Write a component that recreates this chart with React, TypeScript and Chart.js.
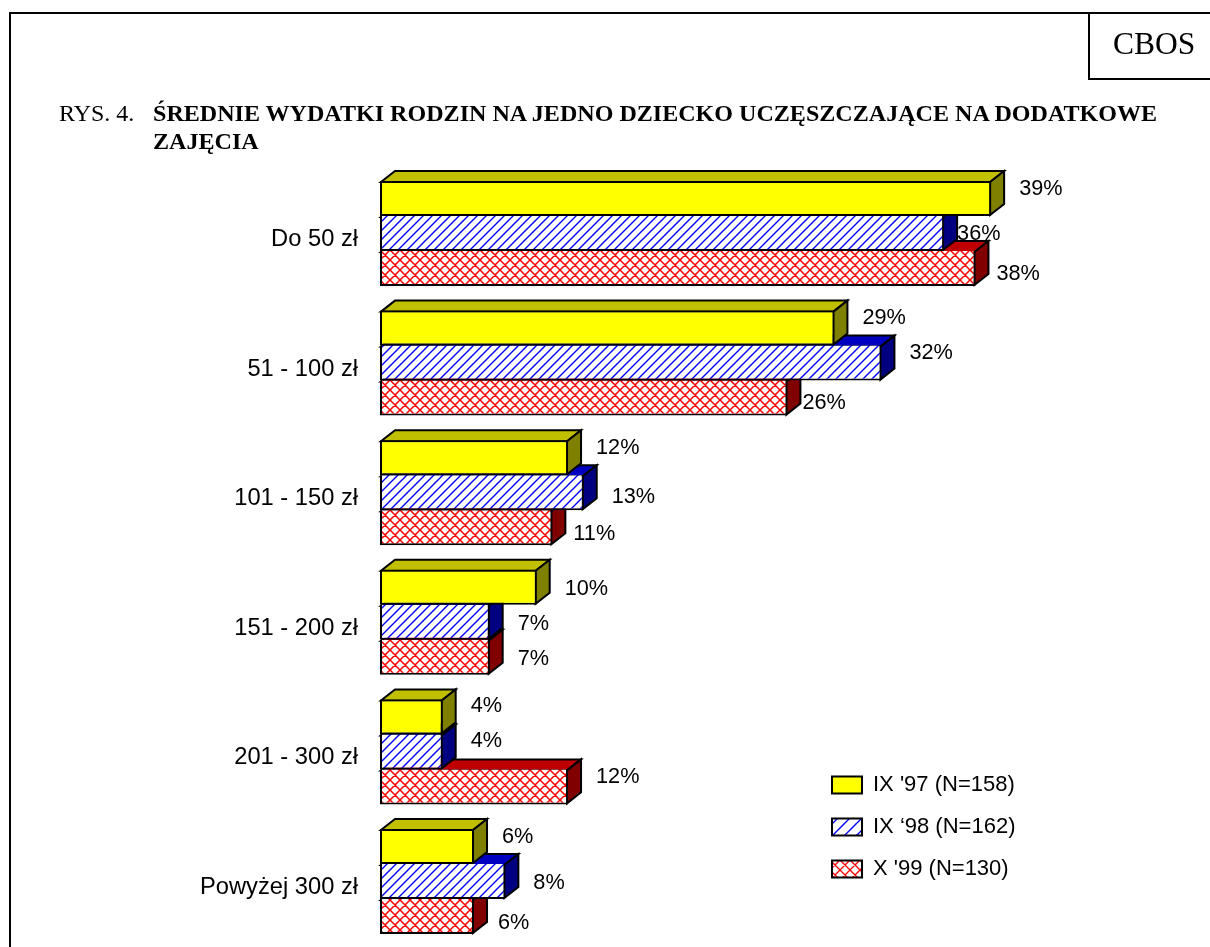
import React, { useEffect, useRef } from "react";
import { Chart, registerables } from "chart.js";

Chart.register(...registerables);

const categories = ["Do 50 zł", "51 - 100 zł", "101 - 150 zł", "151 - 200 zł", "201 - 300 zł", "Powyżej 300 zł"];
const seriesNames = ["IX '97 (N=158)", "IX ‘98 (N=162)", "X '99 (N=130)"];
const values97 = [39, 29, 12, 10, 4, 6];
const values98 = [36, 32, 13, 7, 4, 8];
const values99 = [38, 26, 11, 7, 12, 6];

// nudges of the value labels, [dx, dy] from the bar end and bar centre
const labelNudge97 = [[28, -9], [28, -10], [28, -10], [28, 2], [28, -11], [28, -9]];
const labelNudge98 = [[13, 1], [28, -10], [28, 4], [28, 2], [28, -11], [28, 2]];
const labelNudge99 = [[21, 6], [15, 5], [21, 6], [28, 2], [28, -10], [24, 7]];
const labelNudges = [labelNudge97, labelNudge98, labelNudge99];

const topColors = ["#C0C000", "#0000C0", "#C00000"];
const sideColors = ["#808000", "#000080", "#800000"];
const DEPTH_X = 14;
const DEPTH_Y = 11;
const LABEL_FONT = "Liberation Sans";
const VALUE_SIZE = 21.7;
const AXIS_SIZE = 23.7;

function tile(size: number, draw: (c: CanvasRenderingContext2D) => void) {
  const cv = document.createElement("canvas");
  cv.width = size;
  cv.height = size;
  const c = cv.getContext("2d")!;
  c.fillStyle = "#fff";
  c.fillRect(0, 0, size, size);
  draw(c);
  return c.createPattern(cv, "repeat")!;
}

function hatchPattern(size: number, color: string, width: number) {
  return tile(size, (c) => {
    c.strokeStyle = color;
    c.lineWidth = width;
    c.beginPath();
    c.moveTo(-1, size + 1);
    c.lineTo(size + 1, -1);
    c.moveTo(-1, 1);
    c.lineTo(1, -1);
    c.moveTo(size - 1, size + 1);
    c.lineTo(size + 1, size - 1);
    c.stroke();
  });
}

function crossPattern(size: number, color: string, width: number) {
  return tile(size, (c) => {
    c.strokeStyle = color;
    c.lineWidth = width;
    c.beginPath();
    c.moveTo(-1, size + 1);
    c.lineTo(size + 1, -1);
    c.moveTo(-1, -1);
    c.lineTo(size + 1, size + 1);
    c.moveTo(-1, 1);
    c.lineTo(1, -1);
    c.moveTo(size - 1, size + 1);
    c.lineTo(size + 1, size - 1);
    c.moveTo(size - 1, -1);
    c.lineTo(size + 1, 1);
    c.moveTo(-1, size - 1);
    c.lineTo(1, size + 1);
    c.stroke();
  });
}

const depthFaces = {
  id: "depthFaces",
  beforeDatasetsDraw(chart: any) {
    const { ctx } = chart;
    ctx.save();
    ctx.strokeStyle = "#000";
    ctx.lineWidth = 2;
    ctx.lineJoin = "miter";
    const count = chart.data.labels.length;
    for (let i = count - 1; i >= 0; i--) {
      for (let d = chart.data.datasets.length - 1; d >= 0; d--) {
        const el: any = chart.getDatasetMeta(d).data[i];
        const top = el.y - el.height / 2 + 1;
        const bottom = el.y + el.height / 2 - 1;
        const left = el.base + 1;
        const right = el.x - 1;
        ctx.fillStyle = topColors[d];
        ctx.beginPath();
        ctx.moveTo(left, top);
        ctx.lineTo(left + DEPTH_X, top - DEPTH_Y);
        ctx.lineTo(right + DEPTH_X, top - DEPTH_Y);
        ctx.lineTo(right, top);
        ctx.closePath();
        ctx.fill();
        ctx.stroke();
        ctx.fillStyle = sideColors[d];
        ctx.beginPath();
        ctx.moveTo(right, top);
        ctx.lineTo(right + DEPTH_X, top - DEPTH_Y);
        ctx.lineTo(right + DEPTH_X, bottom - DEPTH_Y);
        ctx.lineTo(right, bottom);
        ctx.closePath();
        ctx.fill();
        ctx.stroke();
      }
    }
    ctx.restore();
  },
};

const valueLabels = {
  id: "valueLabels",
  afterDatasetsDraw(chart: any) {
    const { ctx } = chart;
    ctx.save();
    ctx.fillStyle = "#000";
    ctx.font = `${VALUE_SIZE}px "${LABEL_FONT}"`;
    ctx.textAlign = "left";
    ctx.textBaseline = "middle";
    chart.data.datasets.forEach((ds: any, d: number) => {
      chart.getDatasetMeta(d).data.forEach((el: any, i: number) => {
        const [dx, dy] = labelNudges[d][i];
        ctx.fillText(`${ds.data[i]}%`, el.x + dx, el.y + dy);
      });
    });
    ctx.restore();
  },
};

const placeLegend = {
  id: "placeLegend",
  afterLayout(chart: any) {
    const lg = chart.legend;
    const pad = lg.options.labels.padding;
    lg.left = 832 - pad;
    lg.top = 774 - pad;
    lg.right = 1200;
    lg.bottom = 947;
    lg.width = lg.right - lg.left;
    lg.height = lg.bottom - lg.top;
  },
};

export default function App() {
  const ref = useRef<HTMLCanvasElement>(null);
  useEffect(() => {
    const fills = [
      "#FFFF00",
      hatchPattern(9, "#0000FF", 1.4),
      crossPattern(10, "#FF0000", 1.5),
    ];
    const legendFills = [
      "#FFFF00",
      hatchPattern(12, "#0000FF", 1.4),
      crossPattern(10, "#FF0000", 1.3),
    ];
    const seriesValues = [values97, values98, values99];
    const chart = new Chart(ref.current!, {
      type: "bar",
      data: {
        labels: categories,
        datasets: seriesNames.map((label, i) => ({
          label,
          data: seriesValues[i],
          backgroundColor: fills[i],
          borderColor: "#000",
          borderWidth: 2,
          borderSkipped: i === 0 ? false : "top",
          categoryPercentage: 0.81,
          barPercentage: 1,
        })),
      },
      plugins: [depthFaces, valueLabels, placeLegend],
      options: {
        indexAxis: "y",
        animation: false,
        responsive: false,
        layout: { padding: { left: 0, right: 46.5, top: 168.7, bottom: 0.7 } },
        scales: {
          x: { min: 0, max: 50, display: false, grid: { display: false } },
          y: {
            grid: { display: false, drawTicks: false },
            border: { display: false },
            afterFit: (s: any) => {
              s.width = 380;
              s.paddingTop = 0;
              s.paddingBottom = 0;
            },
            ticks: {
              padding: 22,
              labelOffset: 6,
              color: "#000",
              font: { family: LABEL_FONT, size: AXIS_SIZE },
            },
          },
        },
        plugins: {
          tooltip: { enabled: false },
          title: { display: false },
          legend: {
            display: true,
            position: "chartArea",
            align: "start",
            labels: {
              boxWidth: 30,
              boxHeight: 17,
              padding: 20,
              color: "#000",
              font: { family: LABEL_FONT, size: 22, lineHeight: 1 },
              generateLabels: () =>
                seriesNames.map((text, i) => ({
                  text,
                  fillStyle: legendFills[i],
                  strokeStyle: "#000",
                  lineWidth: 2,
                  datasetIndex: i,
                  fontColor: "#000",
                })),
            },
          },
        },
      },
    } as any);
    return () => chart.destroy();
  }, []);

  const serif = '"Liberation Serif", serif';
  const textBase: React.CSSProperties = {
    position: "absolute",
    fontFamily: serif,
    color: "#000",
    whiteSpace: "nowrap",
    lineHeight: "24px",
  };
  return (
    <div style={{ position: "absolute", left: 0, top: 0, width: 1210, height: 947, overflow: "hidden", background: "#fff" }}>
      <canvas ref={ref} width={1210} height={947} style={{ position: "absolute", left: 0, top: 0, display: "block" }} />
      <div style={{ position: "absolute", left: 9, top: 12, width: 1210, height: 960, border: "2px solid #000", boxSizing: "border-box" }} />
      <div style={{ position: "absolute", left: 1088, top: 12, width: 140, height: 68, border: "2px solid #000", boxSizing: "border-box" }} />
      <div style={{ ...textBase, left: 1113, top: 28, fontSize: 31.5, lineHeight: "32px" }}>CBOS</div>
      <div style={{ ...textBase, left: 59, top: 101, fontSize: 24 }}>RYS. 4.</div>
      <div style={{ ...textBase, left: 153, top: 101, fontSize: 24.07, fontWeight: "bold" }}>ŚREDNIE WYDATKI RODZIN NA JEDNO DZIECKO UCZĘSZCZAJĄCE NA DODATKOWE</div>
      <div style={{ ...textBase, left: 153, top: 129, fontSize: 24.07, fontWeight: "bold" }}>ZAJĘCIA</div>
    </div>
  );
}
